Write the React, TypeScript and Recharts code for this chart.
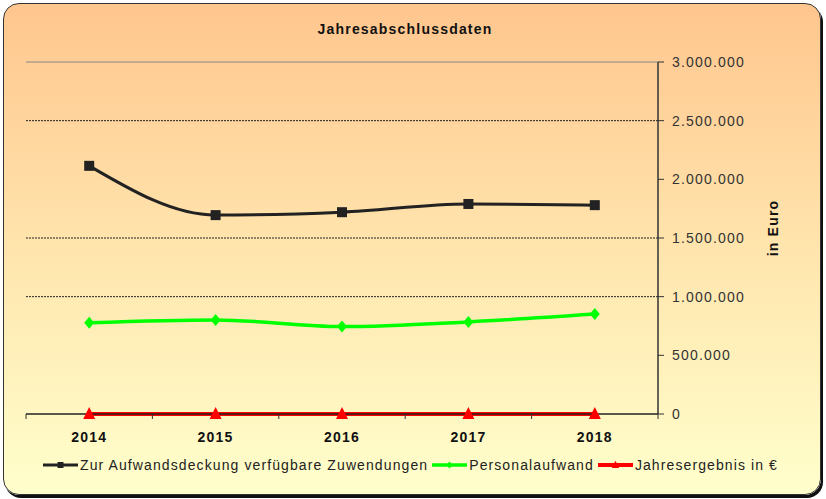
import { LineChart, Line, XAxis, YAxis, ReferenceLine } from "recharts";

const years = ["2014", "2015", "2016", "2017", "2018"];
const zuwendungen = [2115000, 1695000, 1720000, 1790000, 1780000];
const personalaufwand = [778000, 802000, 745000, 785000, 852000];
const jahresergebnis = [0, 0, 0, 0, 0];
const yTicks = [0, 500000, 1000000, 1500000, 2000000, 2500000, 3000000];
const gridValues = [1000000, 1500000, 2500000];

const series = [
  { key: "zuw", name: "Zur Aufwandsdeckung verfügbare Zuwendungen", color: "#222222", marker: "square", width: 3, values: zuwendungen },
  { key: "pers", name: "Personalaufwand", color: "#00ff00", marker: "diamond", width: 3.5, values: personalaufwand },
  { key: "erg", name: "Jahresergebnis in €", color: "#ff0000", marker: "triangle", width: 4, values: jahresergebnis },
];

const data = years.map((year, i) => ({
  year,
  zuw: zuwendungen[i],
  pers: personalaufwand[i],
  erg: jahresergebnis[i],
}));

const W = 826;
const H = 499;
const M = { top: 62, right: 68, bottom: 55, left: 26 };
const Y_AXIS_W = 100;
const BAND = (W - M.left - M.right - Y_AXIS_W) / years.length;
const FONT = "'Liberation Sans', Arial, sans-serif";

const fmt = (v: number) => String(v).replace(/\B(?=(\d{3})+(?!\d))/g, ".");

function Marker({ type, cx, cy, color, s = 1 }: { type: string; cx: number; cy: number; color: string; s?: number }) {
  if (type === "square") return <rect x={cx - 5 * s} y={cy - 5 * s} width={10 * s} height={10 * s} fill={color} />;
  if (type === "diamond")
    return <path d={`M${cx},${cy - 6 * s} L${cx + 5 * s},${cy} L${cx},${cy + 6 * s} L${cx - 5 * s},${cy} Z`} fill={color} />;
  return <path d={`M${cx},${cy - 7 * s} L${cx + 6 * s},${cy + 5 * s} L${cx - 6 * s},${cy + 5 * s} Z`} fill={color} />;
}

function XTick(props: any) {
  const { x, y, payload, index } = props;
  return (
    <g>
      {index === 0 && <line x1={x - BAND / 2} y1={y} x2={x - BAND / 2} y2={y + 5} stroke="#333" />}
      <line x1={x + BAND / 2} y1={y} x2={x + BAND / 2} y2={y + 5} stroke="#333" />
      <text x={x} y={y + 28} textAnchor="middle" fontFamily={FONT} fontSize={14} fontWeight="bold" fill="#111" letterSpacing={1.2}>
        {payload.value}
      </text>
    </g>
  );
}

export default function App() {
  return (
    <div style={{ position: "absolute", left: 0, top: 0, width: W, height: H }}>
      <div
        style={{
          position: "absolute",
          left: 3,
          top: 3,
          width: 816,
          height: 490,
          borderRadius: 16,
          border: "1.5px solid #333",
          boxShadow: "2px 3px 0 #111",
          background: "linear-gradient(to bottom, #ffc68e 0%, #ffe5ad 50%, #ffffcc 100%)",
        }}
      />
      <div
        style={{
          position: "absolute",
          left: 0,
          top: 21,
          width: 810,
          textAlign: "center",
          fontFamily: FONT,
          fontSize: 14,
          fontWeight: "bold",
          letterSpacing: 1.2,
          color: "#111",
        }}
      >
        Jahresabschlussdaten
      </div>
      <div style={{ position: "absolute", left: 0, top: 0 }}>
        <LineChart width={W} height={H} data={data} margin={M}>
          <XAxis
            dataKey="year"
            axisLine={{ stroke: "#222", strokeWidth: 1.5 }}
            tickLine={false}
            tickSize={0}
            tickMargin={0}
            height={30}
            padding={{ left: BAND / 2, right: BAND / 2 }}
            tick={<XTick />}
            interval={0}
          />
          <YAxis yAxisId="left" orientation="left" width={0} tick={false} tickLine={false} axisLine={{ stroke: "#888" }} />
          <YAxis
            yAxisId="r"
            orientation="right"
            width={Y_AXIS_W}
            domain={[0, 3000000]}
            ticks={yTicks}
            tickFormatter={fmt}
            axisLine={{ stroke: "#333", strokeWidth: 1.5 }}
            tickLine={{ stroke: "#333" }}
            tickSize={6}
            tickMargin={8}
            tick={{ fontFamily: FONT, fontSize: 14, fill: "#333", letterSpacing: 1.2 }}
            label={{
              content: ({ viewBox }: any) => (
                <text
                  x={viewBox.x + 115}
                  y={viewBox.y + viewBox.height / 2 - 10}
                  transform={`rotate(-90, ${viewBox.x + 115}, ${viewBox.y + viewBox.height / 2 - 10})`}
                  textAnchor="middle"
                  dominantBaseline="central"
                  fontFamily={FONT}
                  fontSize={14}
                  fontWeight="bold"
                  fill="#111"
                  letterSpacing={1.2}
                >
                  in Euro
                </text>
              ),
            }}
          />
          <ReferenceLine yAxisId="r" y={3000000} stroke="#888" />
          {gridValues.map((v) => (
            <ReferenceLine key={v} yAxisId="r" y={v} stroke="#222" strokeDasharray="2 1" />
          ))}
          {series.map((s) => (
            <Line
              key={s.key}
              yAxisId="r"
              dataKey={s.key}
              name={s.name}
              type="monotone"
              stroke={s.color}
              strokeWidth={s.width}
              isAnimationActive={false}
              dot={(p: any) => <Marker key={`${s.key}-${p.index}`} type={s.marker} cx={p.cx} cy={p.cy} color={s.color} />}
            />
          ))}
        </LineChart>
      </div>
      <div
        style={{
          position: "absolute",
          left: 43,
          top: 457,
          display: "flex",
          alignItems: "center",
          fontFamily: FONT,
          fontSize: 14,
          letterSpacing: 1.1,
          color: "#222",
          whiteSpace: "nowrap",
        }}
      >
        {series.map((s) => (
          <div key={s.key} style={{ display: "flex", alignItems: "center", marginRight: 4 }}>
            <svg width={35} height={16} style={{ marginRight: 2 }}>
              <line x1={0} y1={8} x2={35} y2={8} stroke={s.color} strokeWidth={s.width} />
              <Marker type={s.marker} cx={17.5} cy={8} color={s.color} s={0.6} />
            </svg>
            <span>{s.name}</span>
          </div>
        ))}
      </div>
    </div>
  );
}
